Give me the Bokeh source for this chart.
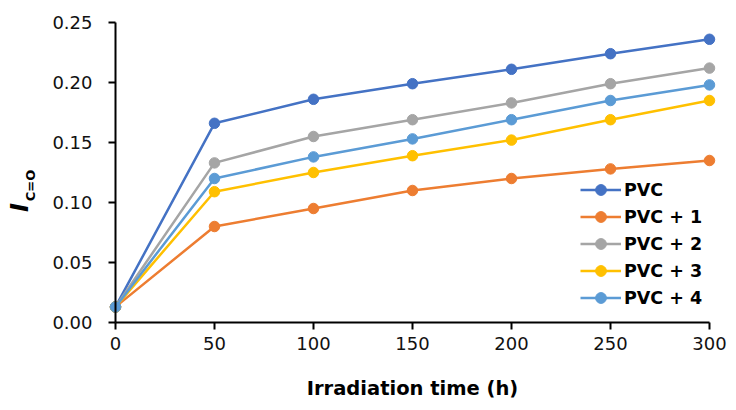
import math
from bokeh.plotting import figure
from bokeh.models import Range1d, Label, Legend
from bokeh.embed import file_html
from bokeh.resources import INLINE

hours = [0, 50, 100, 150, 200, 250, 300]
pvc = [0.013, 0.166, 0.186, 0.199, 0.211, 0.224, 0.236]
pvc1 = [0.013, 0.080, 0.095, 0.110, 0.120, 0.128, 0.135]
pvc2 = [0.013, 0.133, 0.155, 0.169, 0.183, 0.199, 0.212]
pvc3 = [0.013, 0.109, 0.125, 0.139, 0.152, 0.169, 0.185]
pvc4 = [0.013, 0.120, 0.138, 0.153, 0.169, 0.185, 0.198]

y_ticks = [0, 0.05, 0.10, 0.15, 0.20, 0.25]
y_tick_labels = ["0.00", "0.05", "0.10", "0.15", "0.20", "0.25"]

series_names = ["PVC", "PVC + 1", "PVC + 2", "PVC + 3", "PVC + 4"]
series_values = [pvc, pvc1, pvc2, pvc3, pvc4]
colors = ["#4472C4", "#ED7D31", "#A5A5A5", "#FFC000", "#5B9BD5"]

FONT = "DejaVu Sans"

# the frame covers the whole canvas; axes are pinned at x=0 / y=0
p = figure(width=736, height=410, output_backend="svg", toolbar_location=None,
           x_range=Range1d(-58.08, 313.64), y_range=Range1d(-0.07333, 0.26833),
           min_border=0, min_border_left=0, min_border_right=0,
           min_border_top=0, min_border_bottom=0)
p.outline_line_color = None
p.grid.visible = False

items = []
for name, vals, col in zip(series_names, series_values, colors):
    r1 = p.line(hours, vals, line_color=col, line_width=2.5)
    r2 = p.scatter(hours, vals, size=10.5, fill_color=col, line_color=col)
    items.append((name, [r1, r2]))

legend = Legend(items=items, location=(580, 99))
legend.background_fill_alpha = 0
legend.border_line_color = None
legend.padding = 0
legend.margin = 0
legend.spacing = 0
legend.glyph_width = 41
legend.glyph_height = 27
legend.label_height = 27
legend.label_standoff = 3
legend.label_text_font = FONT
legend.label_text_font_size = "17.5px"
legend.label_text_line_height = 1.0
legend.label_text_font_style = "bold"
legend.label_text_color = "#000000"
p.add_layout(legend, "center")

for ax in (p.xaxis[0], p.yaxis[0]):
    ax.fixed_location = 0
    ax.axis_line_color = "black"
    ax.axis_line_width = 2
    ax.major_tick_line_color = "black"
    ax.major_tick_line_width = 2
    ax.major_tick_out = 7
    ax.major_tick_in = 0
    ax.minor_tick_line_color = None
    ax.major_label_text_font = FONT
    ax.major_label_text_font_size = "18px"
    ax.major_label_text_color = "#111111"

p.xaxis.bounds = (0, 300)
p.yaxis.bounds = (0, 0.25)
p.xaxis.ticker = hours
p.yaxis.ticker = y_ticks
p.yaxis.major_label_overrides = dict(zip(y_ticks, y_tick_labels))
p.xaxis.major_label_standoff = 7
p.yaxis.major_label_standoff = 16

p.xaxis.axis_label = "Irradiation time (h)"
p.xaxis.axis_label_text_font = FONT
p.xaxis.axis_label_text_font_size = "19.5px"
p.xaxis.axis_label_text_font_style = "bold"
p.xaxis.axis_label_text_color = "#000000"
p.xaxis.axis_label_standoff = 24

lab_i = Label(x=19, y=203, x_units="screen", y_units="screen", text="I",
              angle=math.pi / 2, text_align="center", text_baseline="middle",
              text_font=FONT, text_font_size="24px", text_font_style="bold italic",
              text_color="#000000")
lab_sub = Label(x=30, y=225, x_units="screen", y_units="screen", text="C=O",
                angle=math.pi / 2, text_align="center", text_baseline="middle",
                text_font=FONT, text_font_size="13px", text_font_style="bold",
                text_color="#000000")
p.add_layout(lab_i)
p.add_layout(lab_sub)

open("out.html", "w").write(file_html(p, INLINE))
